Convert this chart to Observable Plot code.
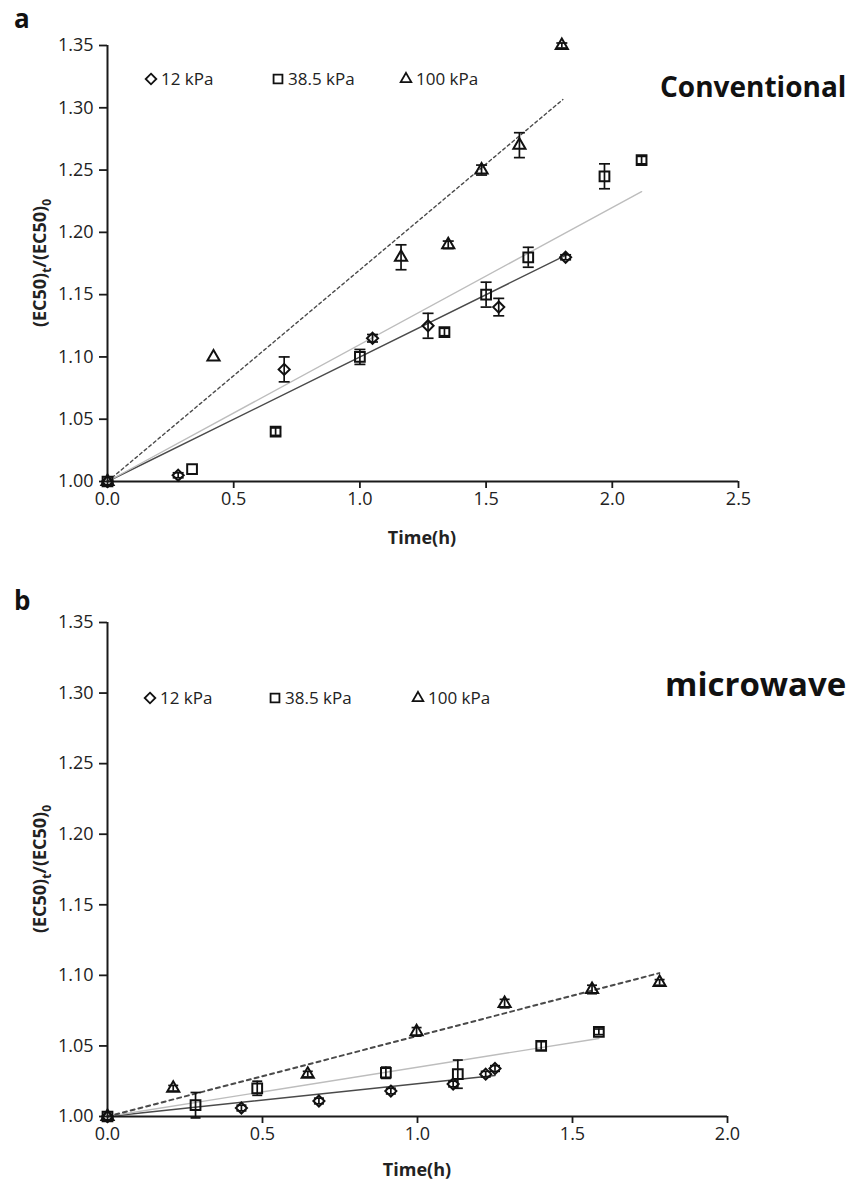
<!DOCTYPE html>
<html><head><meta charset="utf-8">
<script src="https://cdn.jsdelivr.net/npm/d3@7"></script>
<script src="https://cdn.jsdelivr.net/npm/@observablehq/plot@0.6"></script>
<style>
body{margin:0;background:#fff;}
#chart svg{display:block;overflow:visible;}
</style>
</head><body><div id="chart"></div>
<script>
// ---------- shared ----------
const seriesNames = ["12 kPa", "38.5 kPa", "100 kPa"];
const seriesSymbols = ["diamond2", "square2", "triangle2"];
const yTicks = [1.00, 1.05, 1.10, 1.15, 1.20, 1.25, 1.30, 1.35];
const xTicksA = [0, 0.5, 1.0, 1.5, 2.0, 2.5];
const xTicksB = [0, 0.5, 1.0, 1.5, 2.0];

// ---------- panel a : Conventional ----------
const a12_t = [0, 0.28, 0.70, 1.05, 1.27, 1.55, 1.815];
const a12_v = [1.000, 1.005, 1.090, 1.115, 1.125, 1.140, 1.180];
const a12_e = [0, 0.002, 0.010, 0.003, 0.010, 0.007, 0.002];

const a38_t = [0, 0.335, 0.666, 1.00, 1.335, 1.50, 1.667, 1.969, 2.116];
const a38_v = [1.000, 1.010, 1.040, 1.100, 1.120, 1.150, 1.180, 1.245, 1.258];
const a38_e = [0, 0, 0.003, 0.006, 0.003, 0.010, 0.008, 0.010, 0.003];

const a100_t = [0, 0.42, 1.163, 1.35, 1.482, 1.632, 1.80];
const a100_v = [1.000, 1.100, 1.180, 1.190, 1.250, 1.270, 1.350];
const a100_e = [0, 0, 0.010, 0.003, 0.004, 0.010, 0.002];

const aFitEndT = [1.815, 2.116, 1.804];
const aFitEndV = [1.1815, 1.2327, 1.3066];

// ---------- panel b : microwave ----------
const b12_t = [0, 0.432, 0.682, 0.914, 1.115, 1.22, 1.25];
const b12_v = [1.000, 1.006, 1.011, 1.018, 1.023, 1.030, 1.034];
const b12_e = [0, 0.002, 0.002, 0.002, 0.002, 0.002, 0.002];

const b38_t = [0, 0.284, 0.483, 0.898, 1.130, 1.399, 1.585];
const b38_v = [1.000, 1.008, 1.020, 1.031, 1.030, 1.050, 1.060];
const b38_e = [0, 0.009, 0.005, 0.004, 0.010, 0.003, 0.002];

const b100_t = [0, 0.212, 0.646, 0.997, 1.281, 1.563, 1.781];
const b100_v = [1.000, 1.020, 1.030, 1.060, 1.080, 1.090, 1.095];
const b100_e = [0, 0.002, 0.002, 0.003, 0.003, 0.003, 0.002];

const bFitEndT = [1.25, 1.585, 1.78];
const bFitEndV = [1.029, 1.0553, 1.1016];

// ---------- helpers ----------
const rows = (t, v, e) => t.map((d, i) => ({t: d, v: v[i], e: e[i]}));
const capSymbol = {draw(ctx, size) { const w = Math.sqrt(size / Math.PI); ctx.moveTo(-w, 0); ctx.lineTo(w, 0); }};
const markerR = [5.0, 6.2, 5.8];
const fitStyles = [
  {stroke: "#4a4a4a", strokeWidth: 1.4},
  {stroke: "#bdbdbd", strokeWidth: 1.4},
  {stroke: "#4a4a4a", strokeWidth: 1.4}
];
const FONT = "'Open Sans', sans-serif";

function panel(cfg) {
  const marks = [];
  const [x0, x1] = cfg.xDomain;
  cfg.series.forEach((s, i) => {
    const st = fitStyles[i];
    marks.push(Plot.line([{t: 0, v: 1}, {t: cfg.fitT[i], v: cfg.fitV[i]}], {
      x: "t", y: "v", stroke: st.stroke, strokeWidth: cfg.fitWidth ? cfg.fitWidth[i] : st.strokeWidth,
      strokeDasharray: i === 2 ? cfg.dash : null
    }));
  });
  marks.push(Plot.ruleX([x0], {y1: yTicks[0], y2: yTicks[yTicks.length - 1], stroke: "#1a1a1a", strokeWidth: 2}));
  marks.push(Plot.ruleY([yTicks[0]], {x1: x0, x2: x1, stroke: "#1a1a1a", strokeWidth: 2}));
  marks.push(Plot.axisY({ticks: yTicks, tickSize: 8, tickPadding: 6, tickFormat: d3.format(".2f"), label: null, strokeWidth: 1.8, stroke: "#1a1a1a", fill: "#222", fontSize: 18}));
  marks.push(Plot.axisX({ticks: cfg.xTicks, tickSize: 7, tickPadding: 4, tickFormat: d3.format(".1f"), label: null, strokeWidth: 1.8, stroke: "#1a1a1a", fill: "#222", fontSize: 18}));
  cfg.series.forEach((data, i) => {
    const withErr = data.filter(d => d.e > 0);
    marks.push(Plot.ruleX(withErr, {x: "t", y1: d => d.v - d.e, y2: d => d.v + d.e, stroke: "#111", strokeWidth: 1.7}));
    marks.push(Plot.dot(withErr, {x: "t", y: d => d.v + d.e, symbol: capSymbol, r: cfg.capR, stroke: "#111", strokeWidth: 1.7}));
    marks.push(Plot.dot(withErr, {x: "t", y: d => d.v - d.e, symbol: capSymbol, r: cfg.capR, stroke: "#111", strokeWidth: 1.7}));
    marks.push(Plot.dot(data, {x: "t", y: "v", symbol: seriesSymbols[i], r: markerR[i], stroke: "#111", strokeWidth: 2, fill: "none"}));
  });
  const svg = Plot.plot({
    width: 865, height: cfg.height,
    marginLeft: 107, marginRight: cfg.mr, marginTop: cfg.mt, marginBottom: cfg.mb,
    x: {domain: cfg.xDomain},
    y: {domain: [yTicks[0], yTicks[yTicks.length - 1]]},
    style: {fontFamily: FONT, fontSize: "18px", color: "#222", background: "#fff"},
    marks
  });
  const g = d3.select(svg);
  const txt = (x, y, size, weight) => g.append("text").attr("x", x).attr("y", y).attr("text-anchor", "start")
    .attr("font-size", size).attr("font-weight", weight).attr("font-family", FONT).attr("fill", "#111");
  txt(14, cfg.letterY, 26, "bold").text(cfg.letter);
  txt(cfg.titleX, cfg.titleY, cfg.titleSize, "bold").text(cfg.title);
  txt(cfg.xLabelX, cfg.xLabelY, 18, "bold").attr("text-anchor", "middle").attr("fill", "#222").text("Time(h)");
  const yl = g.append("text").attr("transform", `translate(46,${cfg.yLabelY}) rotate(-90)`).attr("text-anchor", "middle")
    .attr("font-size", 18).attr("font-weight", "bold").attr("font-family", FONT).attr("fill", "#222");
  yl.append("tspan").text("(EC50)");
  yl.append("tspan").attr("font-size", 12).attr("dy", 5).text("t");
  yl.append("tspan").attr("dy", -5).text("/(EC50)");
  yl.append("tspan").attr("font-size", 12).attr("dy", 5).text("0");
  const lg = g.append("g").attr("font-family", FONT).attr("font-size", 17).attr("fill", "#222").attr("text-anchor", "start");
  seriesNames.forEach((name, i) => {
    const sx = cfg.legendX[i];
    const sym = [d3.symbolDiamond2, d3.symbolSquare2, d3.symbolTriangle2][i];
    lg.append("path").attr("d", d3.symbol(sym, [72, 100, 80][i])())
      .attr("transform", `translate(${sx},${cfg.legendY})`).attr("fill", "none").attr("stroke", "#111").attr("stroke-width", 1.8);
    lg.append("text").attr("x", sx + 10).attr("y", cfg.legendY).attr("dy", "0.36em").text(name);
  });
  return svg;
}

const chart = document.getElementById("chart");
chart.appendChild(panel({
  letter: "a", letterY: 28,
  title: "Conventional", titleX: 660, titleY: 97, titleSize: 28,
  series: [rows(a12_t, a12_v, a12_e), rows(a38_t, a38_v, a38_e), rows(a100_t, a100_v, a100_e)],
  fitT: aFitEndT, fitV: aFitEndV, dash: "3,3",
  xDomain: [xTicksA[0], xTicksA[xTicksA.length - 1]], xTicks: xTicksA,
  height: 560, mt: 45, mb: 79, mr: 127, capR: 5.5,
  xLabelX: 422, xLabelY: 544, yLabelY: 263,
  legendX: [151, 278, 406], legendY: 79
}));
chart.appendChild(panel({
  letter: "b", letterY: 50,
  title: "microwave", titleX: 665, titleY: 136, titleSize: 33,
  series: [rows(b12_t, b12_v, b12_e), rows(b38_t, b38_v, b38_e), rows(b100_t, b100_v, b100_e)],
  fitT: bFitEndT, fitV: bFitEndV, dash: "4,4", fitWidth: [1.4, 1.4, 2],
  xDomain: [xTicksB[0], xTicksB[xTicksB.length - 1]], xTicks: xTicksB,
  height: 624, mt: 62, mb: 68, mr: 138, capR: 5,
  xLabelX: 417, xLabelY: 616, yLabelY: 309,
  legendX: [150, 275, 418], legendY: 138
}));
</script>
</body></html>
